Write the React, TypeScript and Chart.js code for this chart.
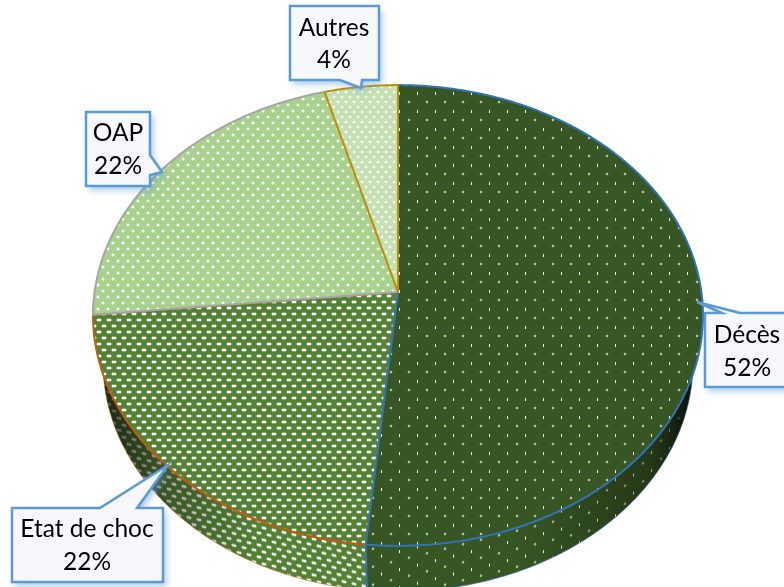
import React, { useEffect, useRef } from "react";
import { Chart, registerables } from "chart.js";

Chart.register(...registerables);

const categories = ["Décès", "Etat de choc", "OAP", "Autres"];
const shares = [51.52, 21.9, 22.3, 4.28];
const fillColors = ["#375623", "#548235", "#A9D18E", "#C5E0B4"];
const borderColors = ["#2E75B6", "#C55A11", "#A5A5A5", "#BF9000"];
const drawOrder = [1, 2, 0, 3];

const W = 784;
const H = 587;
const TOP = { cx: 398, cy: 292, A: 303.4, B: 228, k: 0.102 };
const BOTTOM = { cx: 398, cy: 339.7, A: 293.4, B: 226, k: 0.102 };

// box x0,y0,x1,y1 ; tail tip ; tail base a, b ; text centre x ; two baselines
const callouts = [
  { box: [705, 313, 792, 387], tip: [697, 302], a: [722, 313], b: [740, 313], tx: 747, ty: [335, 368] },
  { box: [12, 508, 163, 582], tip: [168, 465], a: [100, 508], b: [137, 508], tx: 87, ty: [529, 562] },
  { box: [86, 112, 150, 186], tip: [162, 172], a: [150, 155], b: [150, 175], tx: 118, ty: [133, 166] },
  { box: [290, 6, 379, 80], tip: [361, 88], a: [340, 80], b: [362, 80], tx: 334, ty: [28, 60] },
];

type Proj = typeof TOP;
const project = (p: Proj, t: number): [number, number] => {
  const u = Math.sin(t);
  const v = -Math.cos(t);
  const d = 1 - p.k * v;
  return [p.cx + (p.A * u) / d, p.cy + (p.B * v) / d];
};

const arcPoints = (p: Proj, a: number, b: number) => {
  const n = Math.max(2, Math.ceil((b - a) / 0.01));
  const pts: [number, number][] = [];
  for (let i = 0; i <= n; i++) pts.push(project(p, a + ((b - a) * i) / n));
  return pts;
};

const tile = (w: number, h: number, bg: string, paint: (c: CanvasRenderingContext2D) => void) => {
  const c = document.createElement("canvas");
  c.width = w;
  c.height = h;
  const x = c.getContext("2d")!;
  x.fillStyle = bg;
  x.fillRect(0, 0, w, h);
  paint(x);
  return c;
};

const rect = (c: CanvasRenderingContext2D, col: string, x: number, y: number, w: number, h: number) => {
  c.fillStyle = col;
  c.fillRect(x, y, w, h);
};

const softDot = (c: CanvasRenderingContext2D, x: number, y: number, w: number, h: number, core: number, halo: number) => {
  rect(c, `rgba(255,255,255,${halo})`, x - 1, y, w + 2, h);
  rect(c, `rgba(255,255,255,${halo})`, x, y - 1, w, h + 2);
  rect(c, `rgba(255,255,255,${core})`, x, y, w, h);
};

const makeTiles = () => [
  tile(18, 18, fillColors[0], (c) => {
    rect(c, "rgba(255,255,255,0.95)", 3, 2, 1, 3);
    softDot(c, 12, 11, 2, 2, 0.55, 0.1);
  }),
  tile(10, 12, fillColors[1], (c) => {
    softDot(c, 2, 1, 4, 2, 0.95, 0.3);
    softDot(c, 7, 7, 4, 2, 0.95, 0.3);
    softDot(c, -3, 7, 4, 2, 0.95, 0.3);
  }),
  tile(10, 12, fillColors[2], (c) => {
    softDot(c, 2, 2, 2, 2, 0.9, 0.3);
    softDot(c, 7, 8, 2, 2, 0.9, 0.3);
  }),
  tile(8, 10, fillColors[3], (c) => {
    softDot(c, 1, 1, 2, 2, 0.7, 0.2);
    softDot(c, 5, 6, 2, 2, 0.7, 0.2);
  }),
];

const pathOf = (c: CanvasRenderingContext2D, pts: [number, number][]) => {
  c.beginPath();
  pts.forEach(([x, y], i) => (i ? c.lineTo(x, y) : c.moveTo(x, y)));
};

const piePlugin = {
  id: "tiltedPie",
  beforeDatasetDraw(chart: any) {
    const c: CanvasRenderingContext2D = chart.ctx;
    const arcs = chart.getDatasetMeta(0).data;
    const wallPatterns = chart.data.datasets[0].wallPatterns as CanvasPattern[];
    const wallShade = [
      (() => {
        const g = c.createLinearGradient(520, 0, 697, 0);
        g.addColorStop(0, "rgba(0,0,0,0)");
        g.addColorStop(0.75, "rgba(0,0,0,0.35)");
        g.addColorStop(1, "rgba(0,0,0,0.85)");
        return g;
      })(),
      (() => {
        const g = c.createLinearGradient(100, 0, 260, 0);
        g.addColorStop(0, "rgba(0,0,0,0.7)");
        g.addColorStop(0.45, "rgba(0,0,0,0.3)");
        g.addColorStop(1, "rgba(0,0,0,0)");
        return g;
      })(),
    ];
    c.save();
    // side wall first, then the upper face on top
    [0, 1].forEach((i) => {
      const el = arcs[i];
      const a = el.startAngle + Math.PI / 2;
      const b = el.endAngle + Math.PI / 2;
      const top = arcPoints(TOP, a, b);
      const bot = arcPoints(BOTTOM, a, b);
      pathOf(c, [...top, ...bot.slice().reverse()]);
      c.closePath();
      c.fillStyle = wallPatterns[i];
      c.fill();
      c.fillStyle = wallShade[i];
      c.fill();
      pathOf(c, bot);
      c.strokeStyle = el.options.borderColor;
      c.globalAlpha = 0.6;
      c.lineWidth = 1;
      c.stroke();
      c.globalAlpha = 1;
    });
    const seam = arcs[0];
    const sa = seam.endAngle + Math.PI / 2;
    pathOf(c, [project(TOP, sa), project(BOTTOM, sa)]);
    c.strokeStyle = seam.options.borderColor;
    c.lineWidth = 2;
    c.stroke();
    drawOrder.forEach((i) => {
      const el = arcs[i];
      const a = el.startAngle + Math.PI / 2;
      const b = el.endAngle + Math.PI / 2;
      pathOf(c, [[TOP.cx, TOP.cy], ...arcPoints(TOP, a, b)]);
      c.closePath();
      c.fillStyle = el.options.backgroundColor;
      c.fill();
      c.strokeStyle = el.options.borderColor;
      c.lineWidth = el.options.borderWidth;
      c.lineJoin = "round";
      c.stroke();
    });
    c.restore();
    return false;
  },
  afterDraw(chart: any) {
    const c: CanvasRenderingContext2D = chart.ctx;
    const values: number[] = chart.data.datasets[0].data;
    const total = values.reduce((s, v) => s + v, 0);
    c.save();
    callouts.forEach((o, i) => {
      const [x0, y0, x1, y1] = o.box;
      const corners: [number, number][] = [[x0, y0], [x1, y0], [x1, y1], [x0, y1]];
      const side = o.a[1] === o.b[1] ? (o.a[1] === y0 ? 0 : 2) : o.a[0] === x1 ? 1 : 3;
      const pts: [number, number][] = [];
      corners.forEach((p, k) => {
        pts.push(p);
        if (k === side) {
          const forward = side === 0 || side === 1;
          pts.push((forward ? o.a : o.b) as [number, number], o.tip as [number, number], (forward ? o.b : o.a) as [number, number]);
        }
      });
      pathOf(c, pts);
      c.closePath();
      c.save();
      c.shadowColor = "rgba(91,155,213,0.55)";
      c.shadowBlur = 7;
      c.shadowOffsetX = 3;
      c.shadowOffsetY = 4;
      c.fillStyle = "#F7F8FC";
      c.fill();
      c.restore();
      c.strokeStyle = "#5B9BD5";
      c.lineWidth = 2.5;
      c.lineJoin = "miter";
      c.stroke();
      c.fillStyle = "#000000";
      c.font = "24.5px Lato, 'Open Sans', sans-serif";
      c.textAlign = "center";
      c.textBaseline = "middle";
      c.fillText(chart.data.labels[i], o.tx, o.ty[0]);
      c.fillText(`${Math.round((values[i] / total) * 100)}%`, o.tx, o.ty[1]);
    });
    c.restore();
  },
};

export default function App() {
  const ref = useRef<HTMLCanvasElement>(null);
  useEffect(() => {
    document.body.style.margin = "0";
    const ctx = ref.current!.getContext("2d")!;
    const tiles = makeTiles();
    const patterns = tiles.map((t) => ctx.createPattern(t, "repeat")!);
    const decesWall = ctx.createPattern(tiles[0], "repeat")!;
    decesWall.setTransform(new DOMMatrix([1, -0.25, 0, 1, 0, 0]));
    const etatWall = ctx.createPattern(tiles[1], "repeat")!;
    etatWall.setTransform(new DOMMatrix([1, 0.22, 0, 1, 0, 0]));
    const chart: any = new Chart(ctx, {
      type: "pie",
      data: {
        labels: categories,
        datasets: [
          {
            data: shares,
            backgroundColor: patterns,
            borderColor: borderColors,
            borderWidth: 2,
            wallPatterns: [decesWall, etatWall],
          },
        ],
      },
      options: {
        animation: false,
        responsive: false,
        plugins: { legend: { display: false }, tooltip: { enabled: false } },
      },
      plugins: [piePlugin],
    } as any);
    return () => chart.destroy();
  }, []);
  return <canvas ref={ref} width={W} height={H} style={{ display: "block", width: W, height: H }} />;
}
